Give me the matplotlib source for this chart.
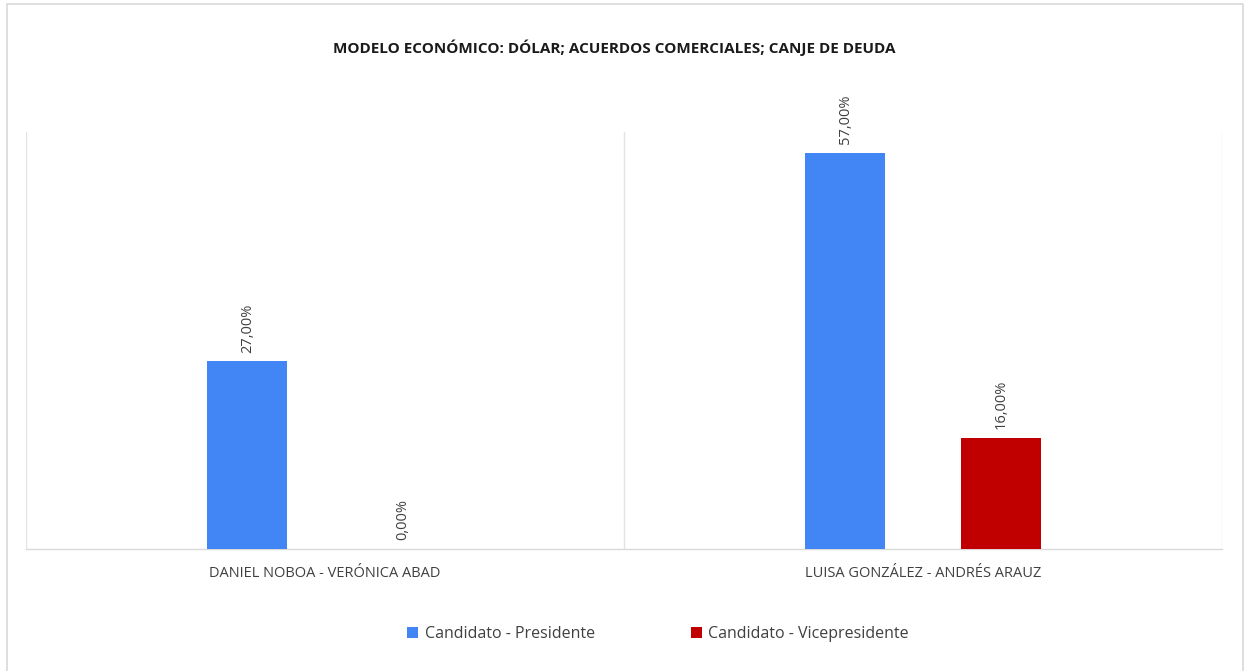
import matplotlib
matplotlib.use("Agg")
import matplotlib.pyplot as plt
from matplotlib.patches import Rectangle
import numpy as np

title = "MODELO ECONÓMICO: DÓLAR; ACUERDOS COMERCIALES; CANJE DE DEUDA"
categories = ["DANIEL NOBOA - VERÓNICA ABAD", "LUISA GONZÁLEZ - ANDRÉS ARAUZ"]
series_names = ["Candidato - Presidente", "Candidato - Vicepresidente"]
presidente = [27.0, 57.0]
vicepresidente = [0.0, 16.0]
colors = ["#4285F4", "#C00000"]

plt.rcParams['font.family'] = ['Open Sans', 'DejaVu Sans']

W, H = 1246, 671
fig = plt.figure(figsize=(W / 100, H / 100), dpi=100)
fig.patch.set_facecolor("white")

# outer border
fig.add_artist(Rectangle((7 / W, -0.01), (1243 - 7) / W, (H - 4) / H + 0.01,
                         transform=fig.transFigure, fill=False,
                         edgecolor="#D9D9D9", linewidth=1.2))

ax = fig.add_axes([26 / W, (H - 549) / H, (1222 - 26) / W, (549 - 132) / H])
x = np.arange(len(categories))
width = 0.134
offset = 0.13
series = [presidente, vicepresidente]
for i, (vals, col, name) in enumerate(zip(series, colors, series_names)):
    pos = x + (offset if i else -offset)
    ax.bar(pos, vals, width=width, color=col, label=name, zorder=3)
    for p, v in zip(pos, vals):
        ax.text(p, v + 1.25, f"{v:.2f}%".replace(".", ","), rotation=90,
                ha="center", va="bottom", fontsize=10.5, color="#404040")

ax.set_xlim(-0.5, len(categories) - 0.5)
ax.set_ylim(0, 60)
ax.set_yticks([])
ax.set_xticks(x)
ax.set_xticklabels(categories, fontsize=10.5, color="#404040")
ax.tick_params(axis="x", length=0, pad=12)
for xb in np.arange(-0.5, len(categories), 1.0):
    ax.axvline(xb, color="#E3E3E3", linewidth=1.0, zorder=1)
for s in ["top", "right", "left"]:
    ax.spines[s].set_visible(False)
ax.spines["bottom"].set_color("#D9D9D9")
ax.spines["bottom"].set_linewidth(1.0)

fig.text(614 / W, 1 - 48 / H, title, ha="center", va="center",
         fontsize=11, fontweight="bold", color="#1a1a1a")

handles, labels = ax.get_legend_handles_labels()
leg = fig.legend(handles, labels, loc="center", bbox_to_anchor=(658 / W, 1 - 634 / H),
                 ncol=2, frameon=False, fontsize=11.5, handlelength=0.7, handleheight=0.7,
                 columnspacing=6.0, handletextpad=0.4)
for t in leg.get_texts():
    t.set_color("#404040")

fig.savefig("out.png", dpi=100)
